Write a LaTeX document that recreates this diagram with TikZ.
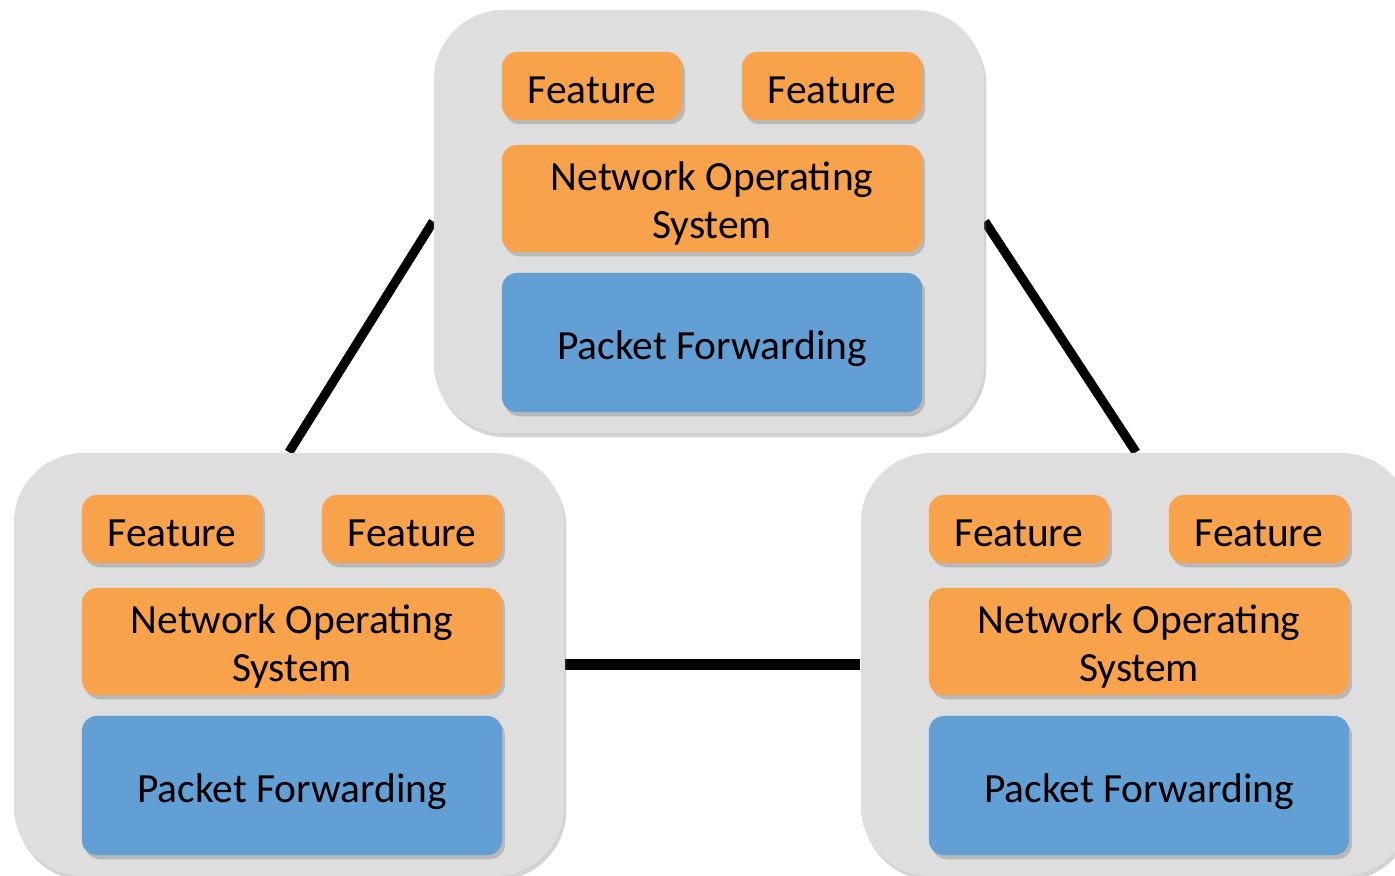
\documentclass[tikz,border=0pt]{standalone}
\usepackage{fontspec}
\setmainfont{Carlito}
\usepackage{tikz}
\usetikzlibrary{positioning,shadows,backgrounds}
\definecolor{boxgrey}{HTML}{DEDEDE}
\definecolor{layerorange}{HTML}{F8A34C}
\definecolor{layerblue}{HTML}{629FD5}
\tikzset{
  routerbox/.style={rounded corners=0.7cm, fill=boxgrey, minimum width=5.5cm, minimum height=4.23cm,
    drop shadow={shadow xshift=0.6pt, shadow yshift=-1.2pt, opacity=0.35}},
  layerbox/.style={rounded corners=0.15cm, fill=layerorange, inner sep=0pt,
    drop shadow={shadow xshift=0.8pt, shadow yshift=-1.2pt, opacity=0.4}},
  featbox/.style={layerbox, minimum width=1.8cm, minimum height=0.68cm, text height=9.8pt, text depth=0pt},
  nosbox/.style={layerbox, minimum width=4.2cm, minimum height=1.07cm},
  fwdbox/.style={layerbox, fill=layerblue, minimum width=4.2cm, minimum height=1.39cm, text height=9.8pt, text depth=0pt},
  linkline/.style={line width=2.6pt, black}
}
% two-line label, set a little lower in its box
\newcommand{\twolines}[2]{\raisebox{-1.8pt}[\height][\depth]{\begin{tabular}{@{}c@{}}#1\\#2\end{tabular}}}

\begin{document}
\begin{tikzpicture}[x=0.01cm, y=-0.01cm, every node/.style={font=\fontsize{11.8}{13.6}\selectfont}]
  \useasboundingbox (0,0) rectangle (1395,875);
  % three routers, each: grey chassis, two features, NOS, forwarding
  \foreach \r/\x/\y in {top/434/10, left/14/453, right/861/453} {
    \node[routerbox] (\r) at ({\x+275},{\y+211.5}) {};
    \node[featbox] (\r-fa) at ({\x+158},{\y+76}) {Feature};
    \node[featbox] (\r-fb) at ({\x+398},{\y+76}) {Feature};
    \node[nosbox] (\r-nos) at ({\x+278},{\y+188.5}) {\twolines{Network Operating}{System}};
    \node[fwdbox] (\r-fwd) at ({\x+278},{\y+332.5}) {Packet Forwarding};
  }
  \begin{scope}[on background layer]
    \draw[linkline] (top.west) -- (left.north);
    \draw[linkline] (top.east) -- (right.north);
    \draw[linkline, line width=2.9pt] (left.east) -- (right.west);
  \end{scope}
\end{tikzpicture}
\end{document}
